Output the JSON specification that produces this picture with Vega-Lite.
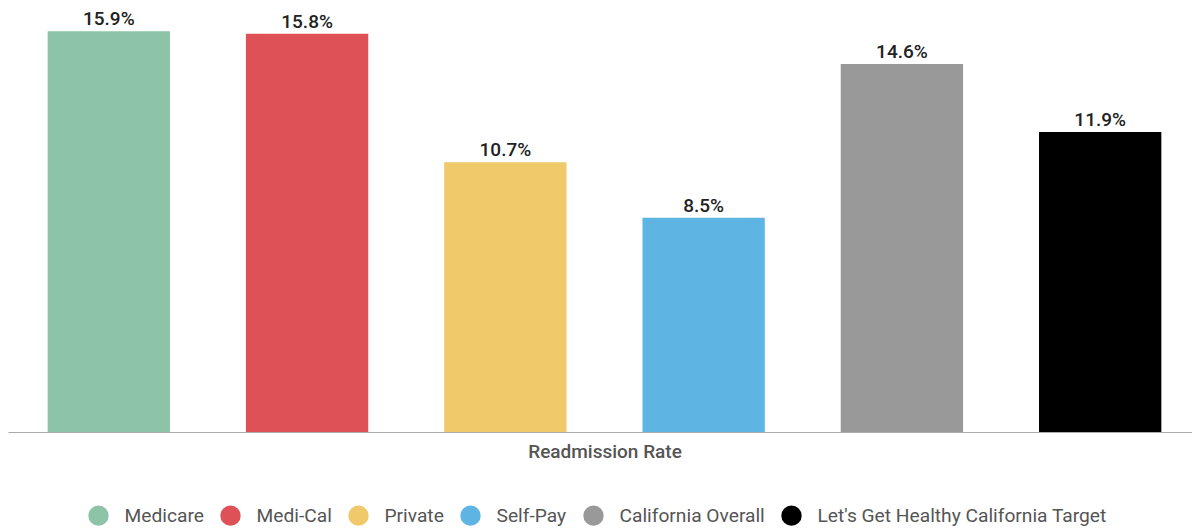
{
  "$schema": "https://vega.github.io/schema/vega-lite/v6.json",
  "width": 1193,
  "height": 432,
  "autosize": {"type": "none"},
  "padding": {"left": 8, "top": 0, "right": 0, "bottom": 97},
  "background": "white",
  "config": {
    "view": {"stroke": null},
    "font": "Roboto"
  },
  "data": {
    "values": [
      {"payer": "Medicare", "rate": 0.159},
      {"payer": "Medi-Cal", "rate": 0.158},
      {"payer": "Private", "rate": 0.107},
      {"payer": "Self-Pay", "rate": 0.085},
      {"payer": "California Overall", "rate": 0.146},
      {"payer": "Let's Get Healthy California Target", "rate": 0.119}
    ]
  },
  "encoding": {
    "x": {
      "field": "payer",
      "type": "nominal",
      "sort": null,
      "scale": {"paddingInner": 0.383, "paddingOuter": 0.2},
      "axis": {
        "labels": false,
        "ticks": false,
        "domainColor": "#aaaaaa",
        "domainWidth": 1,
        "title": "Readmission Rate",
        "titleFont": "Roboto",
        "titleFontSize": 19,
        "titleFontWeight": 500,
        "titleColor": "#555555",
        "titlePadding": 10
      }
    },
    "y": {
      "field": "rate",
      "type": "quantitative",
      "scale": {"domain": [0, 0.1714], "nice": false, "zero": true},
      "axis": null
    }
  },
  "layer": [
    {
      "mark": {"type": "bar"},
      "encoding": {
        "color": {
          "field": "payer",
          "type": "nominal",
          "scale": {
            "domain": ["Medicare", "Medi-Cal", "Private", "Self-Pay", "California Overall", "Let's Get Healthy California Target"],
            "range": ["#8DC3A7", "#DE5157", "#F0C96B", "#5EB5E4", "#999999", "#000000"]
          },
          "legend": {
            "orient": "none",
            "direction": "horizontal",
            "legendX": 80,
            "legendY": 505,
            "title": null,
            "symbolType": "circle",
            "symbolSize": 415,
            "symbolStrokeWidth": 0,
            "symbolOpacity": 1,
            "labelFont": "Roboto",
            "labelFontSize": 19.2,
            "labelColor": "#555555",
            "labelOffset": 15.5,
            "columnPadding": 16,
            "padding": 0,
            "labelLimit": 400
          }
        }
      }
    },
    {
      "mark": {"type": "text", "baseline": "alphabetic", "dy": -6, "font": "Roboto", "fontSize": 19, "fontWeight": 500, "color": "#222222"},
      "encoding": {
        "text": {"field": "rate", "type": "quantitative", "format": ".1%"}
      }
    }
  ]
}
